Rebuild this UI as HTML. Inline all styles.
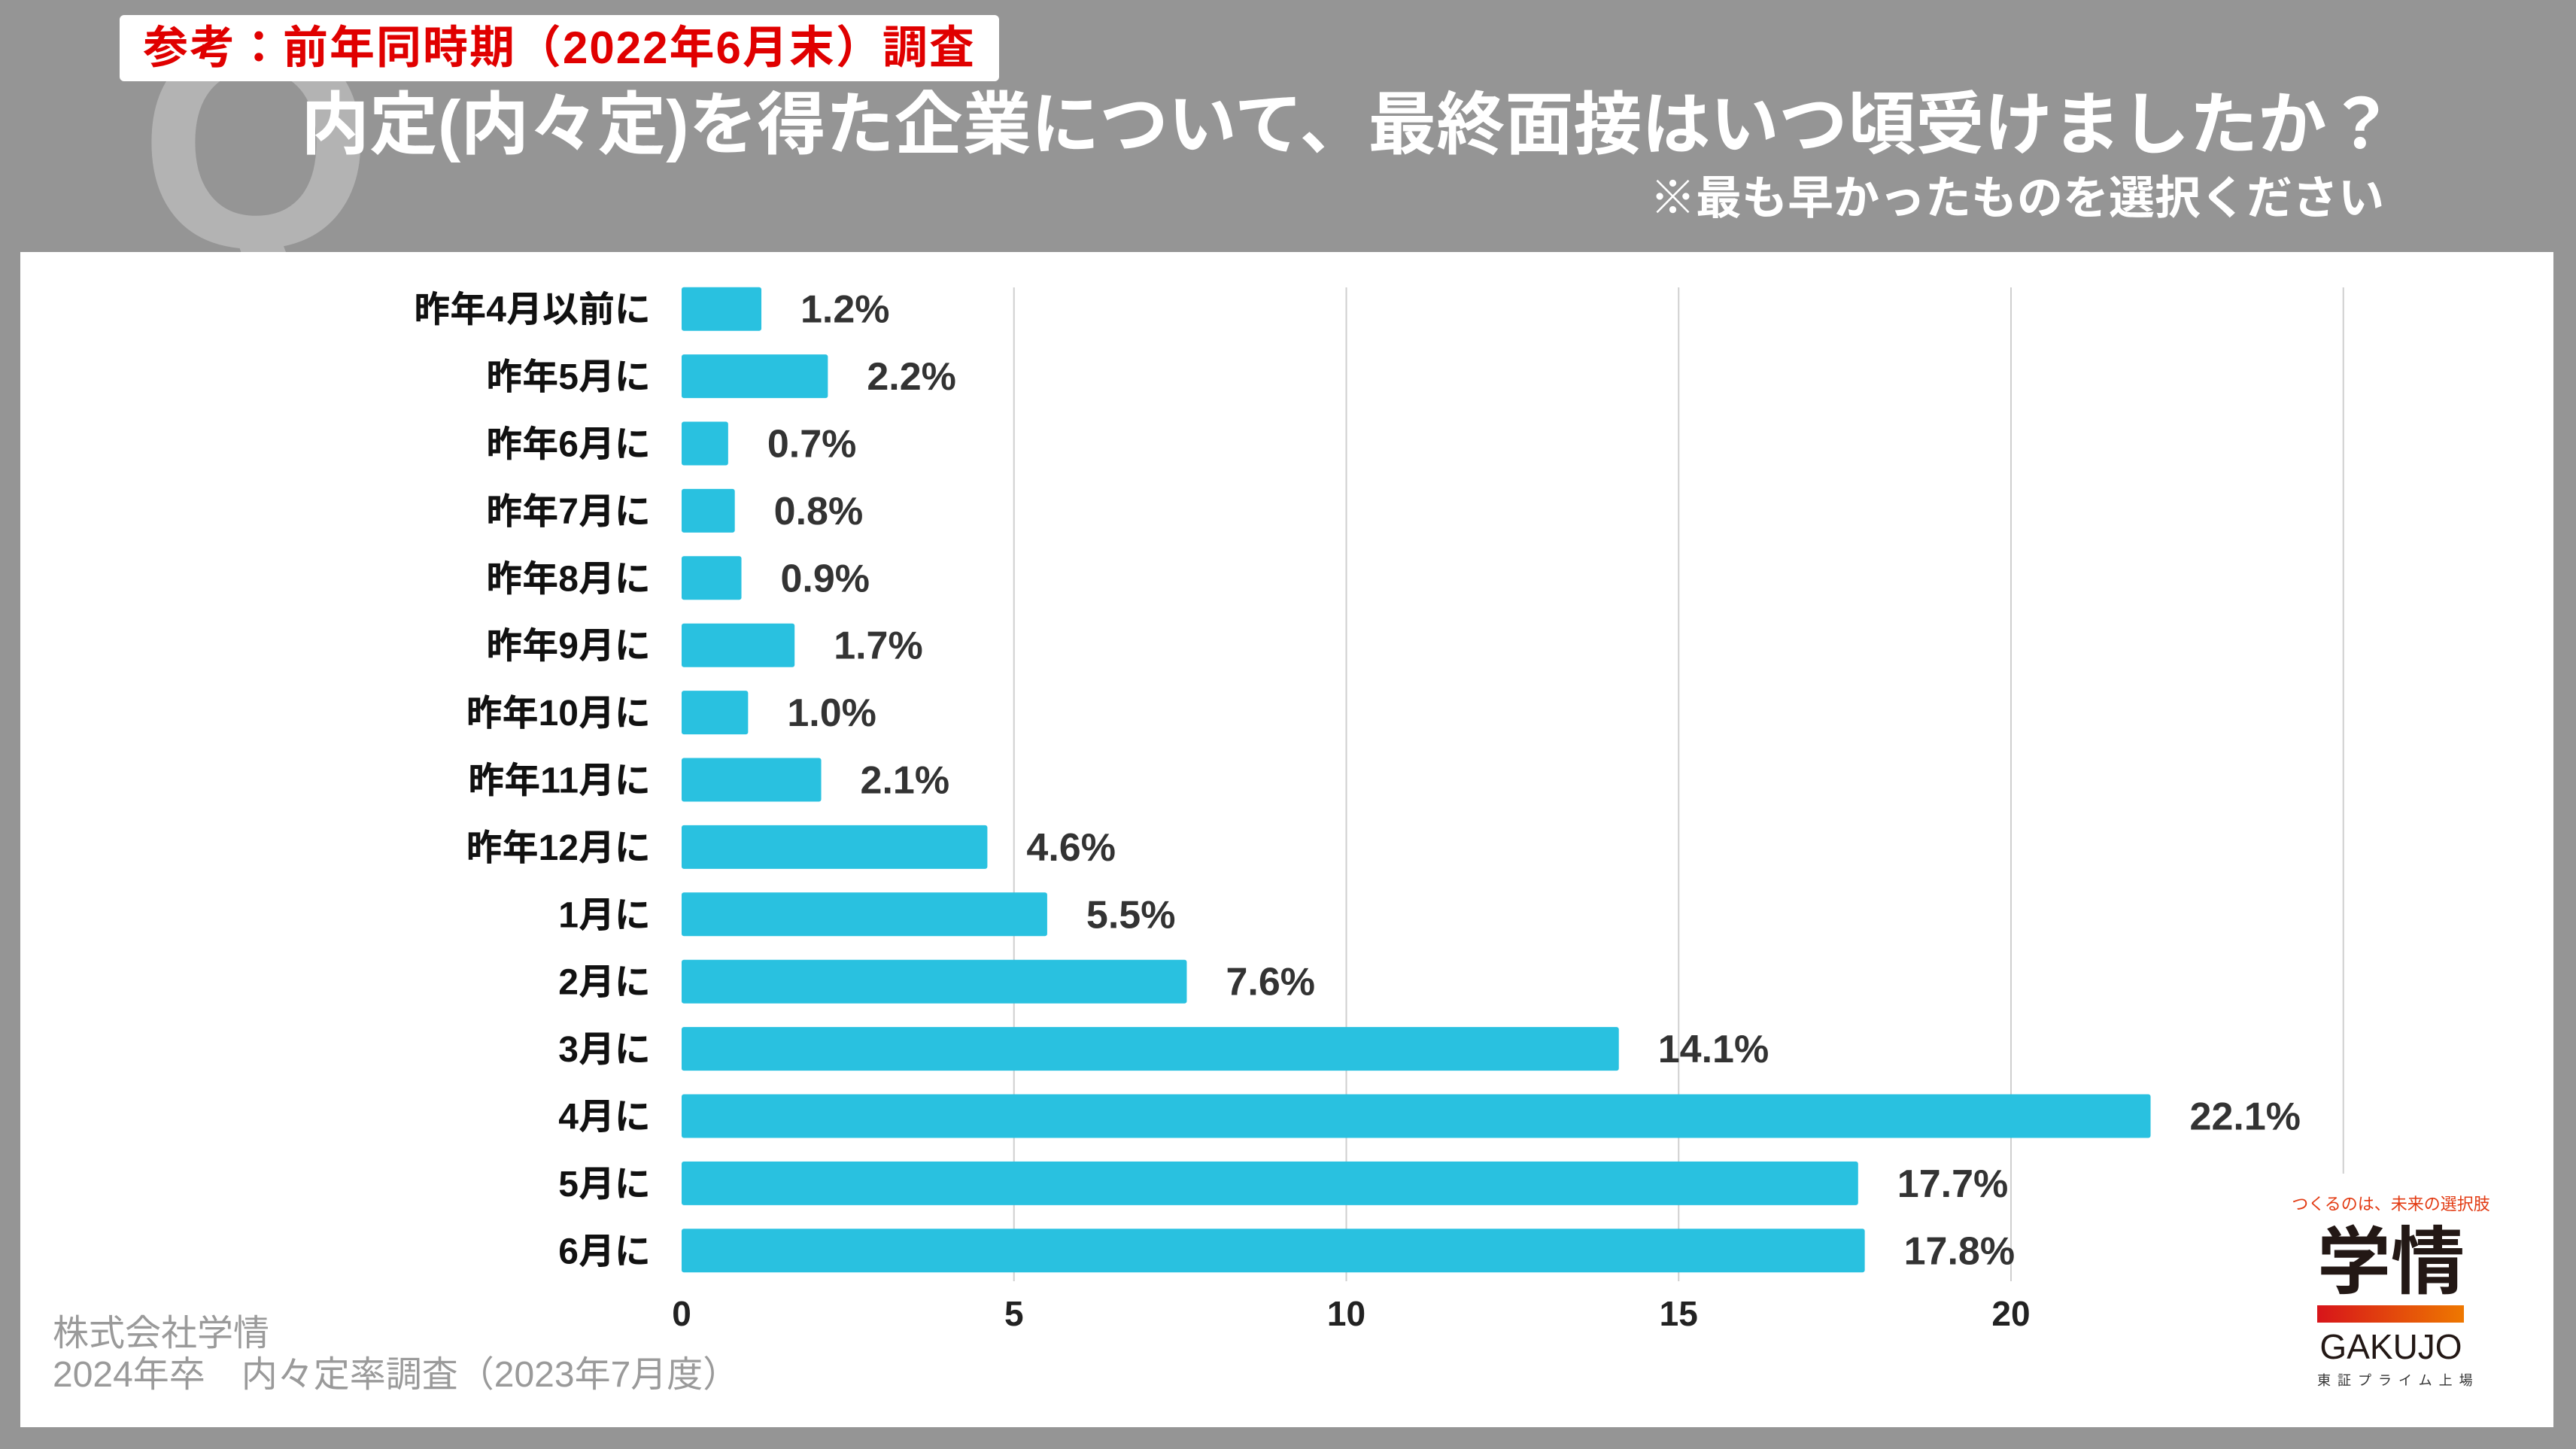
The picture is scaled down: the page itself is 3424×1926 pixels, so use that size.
<!DOCTYPE html>
<html><head><meta charset="utf-8">
<style>
body{margin:0;width:3424px;height:1926px;overflow:hidden;background:#959595;font-family:"Liberation Sans","Noto Sans CJK JP",sans-serif;}
#root{position:relative;width:3424px;height:1926px;background:#959595;}
.abs{position:absolute;}
</style></head><body>
<div id="root">
<div class="abs" style="left:185px;top:-10px;font-size:400px;font-weight:bold;color:#b3b3b3;line-height:1;font-family:'Liberation Sans',sans-serif;">Q</div>
<div class="abs" style="left:159px;top:20px;width:1169px;height:88px;background:#fff;border-radius:6px;"></div>
<div class="abs" style="left:159px;top:22px;width:1169px;height:84px;line-height:84px;text-align:center;color:#e00000;font-weight:bold;font-size:60px;letter-spacing:2px;white-space:nowrap;">参考：前年同時期（2022年6月末）調査</div>
<div class="abs" style="left:400px;top:110px;color:#fff;font-weight:bold;font-size:91px;line-height:114px;white-space:nowrap;">内定(内々定)を得た企業について、最終面接はいつ頃受けましたか？</div>
<div class="abs" style="right:255px;top:226px;color:#fff;font-weight:bold;font-size:61px;line-height:74px;white-space:nowrap;">※最も早かったものを選択ください</div>
<div class="abs" style="left:27px;top:335px;width:3367px;height:1562px;background:#fff;"></div>
<svg class="abs" style="left:0;top:0" width="3424" height="1926" id="chart"></svg>
<div class="abs" style="left:70px;top:1745px;color:#9a9a9a;font-size:48px;line-height:56px;white-space:nowrap;">株式会社学情</div>
<div class="abs" style="left:70px;top:1800px;color:#9a9a9a;font-size:48px;line-height:56px;white-space:nowrap;">2024年卒　内々定率調査（2023年7月度）</div>
<div class="abs" style="left:3040px;top:1586px;width:276px;text-align:center;color:#e23a12;font-size:22px;line-height:30px;white-space:nowrap;">つくるのは、未来の選択肢</div>
<div class="abs" style="left:3078px;top:1622px;width:200px;text-align:center;color:#231815;font-size:98px;font-weight:bold;line-height:110px;">学情</div>
<div class="abs" style="left:3080px;top:1735px;width:195px;height:23px;background:linear-gradient(90deg,#d7141a,#ee7800);"></div>
<div class="abs" style="left:3078px;top:1766px;width:200px;text-align:center;color:#231815;font-size:46px;line-height:48px;">GAKUJO</div>
<div class="abs" style="left:3080px;top:1824px;width:200px;color:#333;font-size:18px;letter-spacing:9px;line-height:22px;white-space:nowrap;">東証プライム上場</div>
</div>
<script>
const categories=["昨年4月以前に","昨年5月に","昨年6月に","昨年7月に","昨年8月に","昨年9月に","昨年10月に","昨年11月に","昨年12月に","1月に","2月に","3月に","4月に","5月に","6月に"];
const values=[1.2,2.2,0.7,0.8,0.9,1.7,1.0,2.1,4.6,5.5,7.6,14.1,22.1,17.7,17.8];
const valueLabels=["1.2%","2.2%","0.7%","0.8%","0.9%","1.7%","1.0%","2.1%","4.6%","5.5%","7.6%","14.1%","22.1%","17.7%","17.8%"];
const ticks=[0,5,10,15,20];
const NS="http://www.w3.org/2000/svg";
const svg=document.getElementById('chart');
const x0=906,x1=2673,xmax=20;
const xs=v=>x0+(x1-x0)*v/xmax;
const yTop=366,step=89.4;
const yc=i=>yTop+step*(i+0.5);
function mk(t,a){const e=document.createElementNS(NS,t);for(const k in a)e.setAttribute(k,a[k]);svg.appendChild(e);return e;}
ticks.forEach((t,i)=>{
  if(t>0){const g=mk('line',{x1:xs(t),x2:xs(t),y1:382,y2:1703,stroke:'#cfcfcf','stroke-width':2});
  
  }
  const tx=mk('text',{x:xs(t),y:1762,'text-anchor':'middle','font-size':46,'font-weight':'bold',fill:'#222','font-family':'Liberation Sans, sans-serif'});
  tx.textContent=t;
  
  
});
const ext=mk('line',{x1:xs(25),x2:xs(25),y1:382,y2:1560,stroke:'#cfcfcf','stroke-width':2});


categories.forEach((c,i)=>{
  const y=yc(i);
  const r=mk('rect',{x:x0,y:y-29,width:xs(values[i])-x0,height:58,fill:'#29c1e0',rx:3});
  
  
  const l=mk('text',{x:865,y:y+17,'text-anchor':'end','font-size':48,'font-weight':'bold',fill:'#111','font-family':'Liberation Sans, Noto Sans CJK JP, sans-serif'});
  l.textContent=c;
  
  
  const v=mk('text',{x:xs(values[i])+52,y:y+18,'font-size':52,'font-weight':'bold',fill:'#333','font-family':'Liberation Sans, sans-serif'});
  v.textContent=valueLabels[i];
  
  
});
</script>
</body></html>
